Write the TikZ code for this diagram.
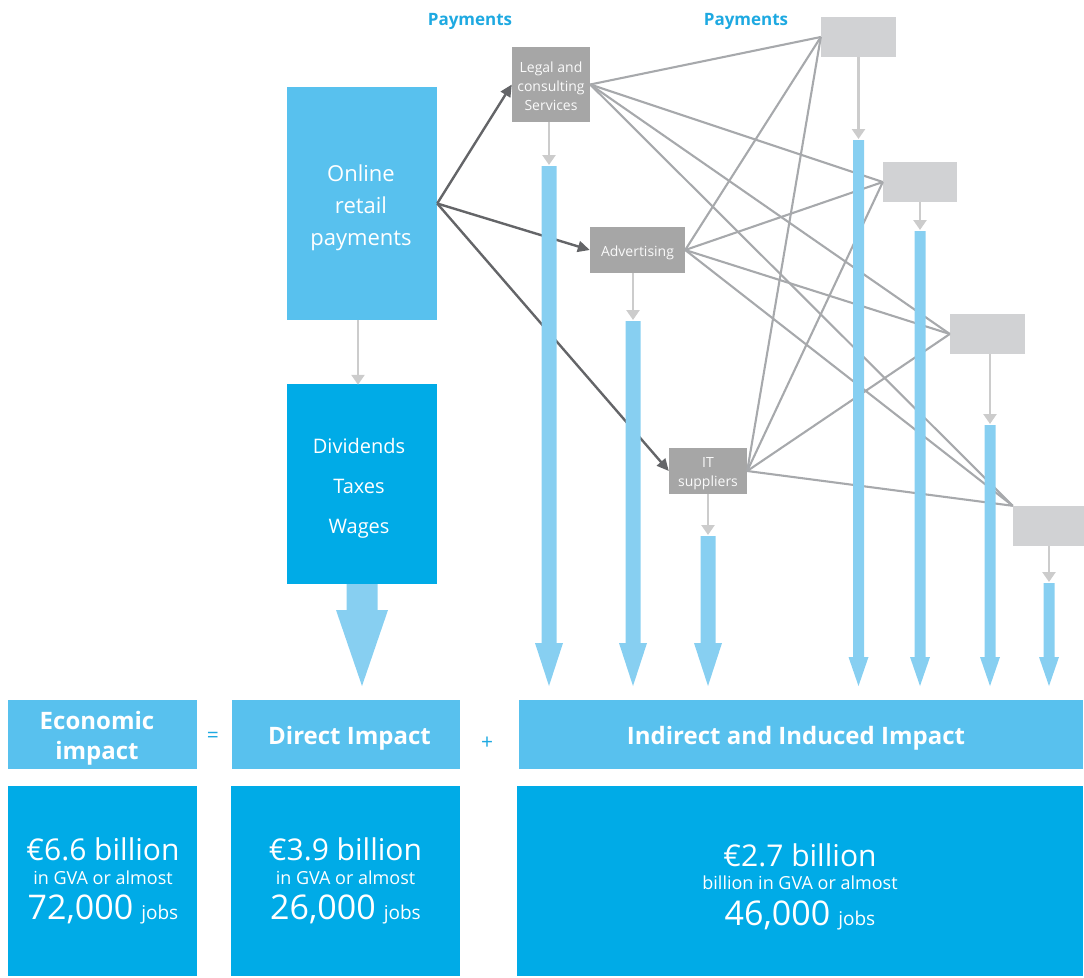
\documentclass[tikz,border=0pt]{standalone}
\usepackage{fontspec}
\setmainfont{Open Sans}
\usetikzlibrary{arrows.meta}

\definecolor{skyblue}{RGB}{88,193,238}
\definecolor{deepblue}{RGB}{0,171,231}
\definecolor{barblue}{RGB}{135,207,241}
\definecolor{midgray}{RGB}{166,166,166}
\definecolor{palegray}{RGB}{209,210,212}
\definecolor{linegray}{RGB}{167,169,172}
\definecolor{arrowgray}{RGB}{100,101,104}
\definecolor{feedgray}{RGB}{204,204,204}
\definecolor{payblue}{RGB}{30,169,225}

\newcommand\valbig{\fontsize{30}{30}\selectfont}
\newcommand\valnum{\fontsize{34}{34}\selectfont}
\newcommand\valsmall{\fontsize{18}{18}\selectfont}
\newcommand\valjobs{\fontsize{19}{19}\selectfont}

% flow arrow: #1 centre x, #2 top y, #3 shaft half width,
% #4 head half width, #5 head start y, #6 tip y
\newcommand\flowarrow[6]{%
  \fill[barblue] ({#1-#3},#2) -- ({#1+#3},#2) -- ({#1+#3},#5) -- ({#1+#4},#5)
    -- (#1,#6) -- ({#1-#4},#5) -- ({#1-#3},#5) -- cycle;}

\begin{document}
\begin{tikzpicture}[x=1pt,y=-1pt,
  stage/.style={fill=skyblue, inner sep=0pt},
  stagetext/.style={text=white, inner sep=0pt, align=center},
  supplier/.style={fill=midgray, inner sep=0pt},
  suppliertext/.style={text=white!94!midgray, inner sep=0pt, align=center,
    font=\fontsize{14}{19}\selectfont},
  ghost/.style={fill=palegray, inner sep=0pt, minimum width=75pt, minimum height=40pt},
  web/.style={draw=linegray, line width=2.1pt},
  spend/.style={draw=arrowgray, line width=2.4pt, -{Triangle[length=12pt,width=11pt]}},
  feed/.style={draw=feedgray, line width=2.5pt, -{Triangle[length=10pt,width=13pt]}},
  title/.style={text=payblue, font=\bfseries\fontsize{17}{17}\selectfont},
  header/.style={fill=skyblue, inner sep=0pt, minimum height=69pt},
  headertext/.style={text=white, inner sep=0pt, align=center,
    font=\bfseries\fontsize{24}{30}\selectfont},
  valuebox/.style={fill=deepblue, inner sep=0pt, minimum height=190pt},
  valtext/.style={text=white, inner sep=0pt, anchor=base},
  sign/.style={text=payblue, font=\fontsize{21}{21}\selectfont}]

\useasboundingbox (0,0) rectangle (1084,977);

% column titles
\node[title] (pay1) at (470,21) {Payments};
\node[title] (pay2) at (746,21) {Payments};

% direct spending chain
\node[stage, minimum width=150pt, minimum height=233pt] (online) at (362,203.5) {};
\node[stagetext, font=\fontsize{22}{32}\selectfont] (onlinetext) at (361,207.5)
  {Online\\retail\\payments};
\node[stage, fill=deepblue, minimum width=150pt, minimum height=200pt] (payout) at (362,484) {};
\node[stagetext, font=\fontsize{20}{40}\selectfont] (payouttext) at (359,488)
  {Dividends\\Taxes\\Wages};

% first-round suppliers
\node[supplier, minimum width=78pt, minimum height=75pt] (legal) at (551,84.5) {};
\node[suppliertext] (legaltext) at (551,86.5) {Legal and\\consulting\\Services};
\node[supplier, minimum width=95pt, minimum height=46pt] (advert) at (637.5,250) {};
\node[suppliertext] (adverttext) at (637.5,253) {Advertising};
\node[supplier, minimum width=78pt, minimum height=46pt] (it) at (708,471) {};
\node[suppliertext] (ittext) at (708,473.5) {IT\\suppliers};

% further supply-chain tiers
\node[ghost] (g1) at (858.5,37) {};
\node[ghost, minimum width=74pt] (g2) at (920,182) {};
\node[ghost] (g3) at (987.5,334) {};
\node[ghost, minimum width=71pt] (g4) at (1048.5,526) {};

% payments between tiers
\foreach \src in {legal,advert,it}{
  \draw[web] (\src.east) -- (g1.west);
  \draw[web] (\src.east) -- (g2.west);
  \draw[web] (\src.east) -- (g3.west);
  \draw[web] (\src.east) -- (g4.north west);
}

% spending flows out of the retail payments
\draw[spend] (online.east) -- (legal.west);
\draw[spend] (online.east) -- (advert.west);
\draw[spend] (online.east) -- (it.west);

% tops of the impact bars
\coordinate (t1) at (549,165);
\coordinate (t2) at (633,320);
\coordinate (t3) at (708,535);
\coordinate (t4) at (858.5,139);
\coordinate (t5) at (920,230);
\coordinate (t6) at (990,424);
\coordinate (t7) at (1049,582);

\draw[feed] ([xshift=-4pt]online.south) -- ([xshift=-4pt,yshift=-1pt]payout.north);
\draw[feed] (legal.south -| t1) -- (t1);
\draw[feed] (advert.south -| t2) -- (t2);
\draw[feed] (it.south -| t3) -- (t3);
\draw[feed] (g1.south -| t4) -- (t4);
\draw[feed] (g2.south -| t5) -- (t5);
\draw[feed] (g3.south -| t6) -- (t6);
\draw[feed] (g4.south -| t7) -- (t7);

% impact bars
\flowarrow{362}{584}{15.5}{26}{610}{686}
\flowarrow{549}{166}{7.5}{14}{643}{686}
\flowarrow{633}{321}{7.5}{14}{643}{686}
\flowarrow{708}{536}{7.5}{14}{643}{686}
\flowarrow{858.5}{140}{5.5}{10}{657}{686}
\flowarrow{920}{231}{5.5}{10}{657}{686}
\flowarrow{990}{425}{5.5}{10}{657}{686}
\flowarrow{1049}{583}{5.5}{10}{657}{686}

% impact equation
\node[header, minimum width=189pt] (econ) at (102.5,734.5) {};
\node[headertext] (econtext) at (97,738.5) {Economic\\impact};
\node[sign] (eq) at (213,737) {=};
\node[header, minimum width=228pt] (direct) at (345.5,734.5) {};
\node[headertext] (directtext) at (349.5,738) {Direct Impact};
\node[sign] (plus) at (487,743) {+};
\node[header, minimum width=564pt] (indirect) at (801,734.5) {};
\node[headertext] (indirecttext) at (796,738) {Indirect and Induced Impact};

% impact figures
\node[valuebox, minimum width=189pt] (v1) at (102.5,881) {};
\node[valuebox, minimum width=229pt] (v2) at (345.5,881) {};
\node[valuebox, minimum width=566pt] (v3) at (800,881) {};

\node[valtext, font=\valbig] (v1a) at (103,860) {€6.6 billion};
\node[valtext, font=\valsmall] (v1b) at (103,884) {in GVA or almost};
\node[valtext] (v1c) at (103,919) {{\valnum 72,000}\hspace{8pt}{\valjobs jobs}};

\node[valtext, font=\valbig] (v2a) at (345.5,860) {€3.9 billion};
\node[valtext, font=\valsmall] (v2b) at (345.5,884) {in GVA or almost};
\node[valtext] (v2c) at (345.5,919) {{\valnum 26,000}\hspace{8pt}{\valjobs jobs}};

\node[valtext, font=\valbig] (v3a) at (800,866) {€2.7 billion};
\node[valtext, font=\valsmall] (v3b) at (800,889) {billion in GVA or almost};
\node[valtext] (v3c) at (800,925) {{\valnum 46,000}\hspace{8pt}{\valjobs jobs}};
\end{tikzpicture}
\end{document}
